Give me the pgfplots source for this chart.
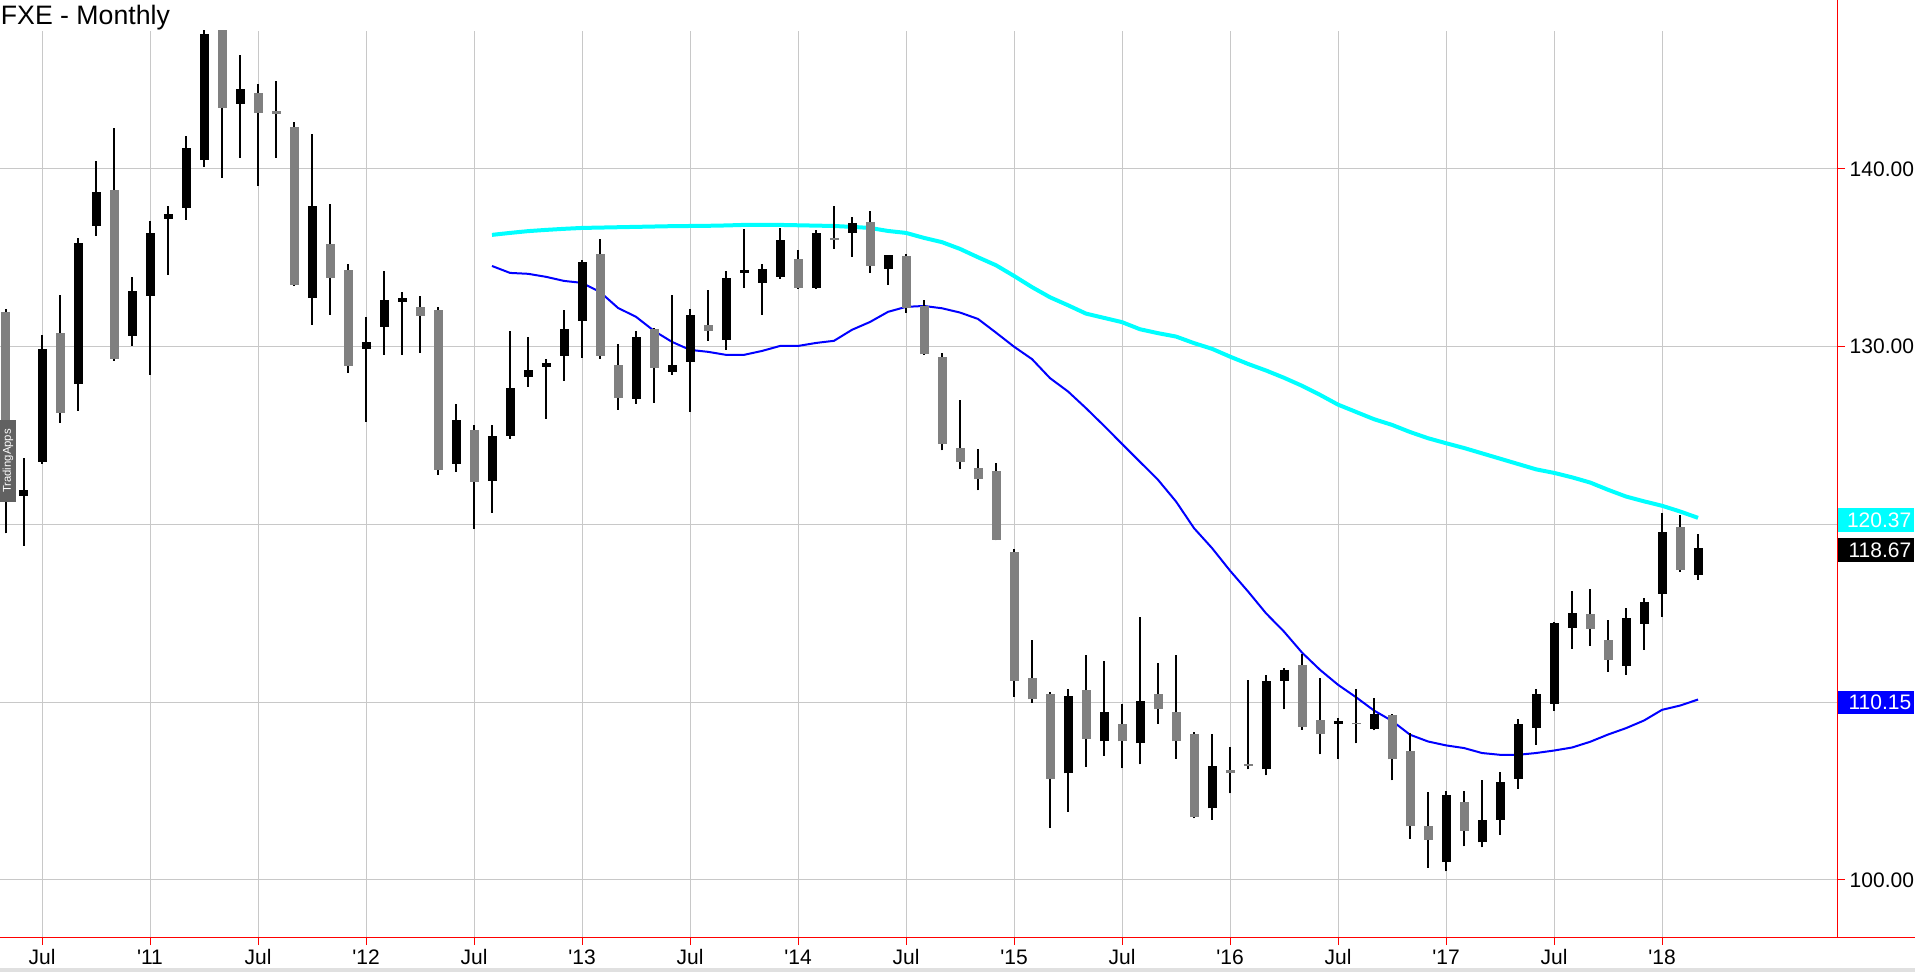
\documentclass[border=0pt]{standalone}
\usepackage{pgfplots}
\usepackage{pgfplotstable}
\pgfplotsset{compat=1.18}
\usepackage{fontspec}
\setmainfont{Liberation Sans}
\definecolor{gridgray}{HTML}{C8C8C8}
\definecolor{candlegray}{HTML}{808080}
\definecolor{macyan}{HTML}{00FFFF}
\definecolor{mablue}{HTML}{0000FF}
\definecolor{axred}{HTML}{FF0000}
\newcommand{\q}{\textquotesingle}

\pgfplotstableread{
i o h l c
4 131.96 132.10 119.50 122.30
5 121.60 123.75 118.80 121.94
6 123.52 130.66 123.40 129.88
7 130.78 132.91 125.71 126.28
8 127.91 136.12 126.39 135.84
9 136.79 140.45 136.23 138.71
10 138.82 142.31 129.20 129.31
11 130.61 133.93 130.05 133.14
12 132.86 137.08 128.41 136.40
13 137.19 137.92 134.04 137.47
14 137.81 141.86 137.13 141.18
15 140.50 147.90 140.10 147.59
16 148.30 149.00 139.49 143.43
17 143.66 146.41 140.62 144.50
18 144.27 144.78 139.04 143.15
19 143.25 144.95 140.62 143.10
20 142.36 142.64 133.40 133.48
21 132.74 141.97 131.23 137.92
22 135.78 138.03 131.79 133.87
23 134.32 134.66 128.53 128.92
24 129.88 131.68 125.77 130.27
25 131.11 134.26 129.54 132.63
26 132.52 133.08 129.54 132.74
27 132.24 132.86 129.65 131.73
28 132.07 132.24 122.79 123.07
29 123.41 126.78 122.96 125.88
30 125.32 125.60 119.75 122.40
31 122.45 125.60 120.65 124.98
32 124.98 130.89 124.81 127.68
33 128.30 130.55 127.74 128.70
34 128.86 129.31 125.94 129.09
35 129.48 132.07 128.08 131.00
36 131.45 134.88 129.37 134.77
37 135.22 136.06 129.31 129.48
38 128.98 130.16 126.45 127.12
39 127.06 130.89 126.78 130.55
40 131.00 131.06 126.84 128.81
41 128.58 132.91 128.41 128.98
42 129.14 132.13 126.33 131.79
43 131.23 133.19 130.33 130.89
44 130.38 134.26 129.82 133.87
45 134.15 136.63 133.30 134.30
46 133.59 134.66 131.79 134.38
47 133.93 136.68 133.81 136.01
48 134.94 135.44 133.25 133.31
49 133.31 136.57 133.25 136.40
50 136.10 137.92 135.50 136.00
51 136.40 137.30 135.05 136.96
52 137.02 137.64 134.15 134.54
53 134.38 135.16 133.48 135.16
54 135.10 135.22 131.90 132.18
55 132.29 132.63 129.54 129.57
56 129.43 129.63 124.16 124.52
57 124.31 127.00 123.11 123.54
58 123.18 124.25 121.91 122.53
59 123.01 123.45 119.10 119.15
60 118.46 118.60 110.32 111.22
61 111.37 113.51 109.98 110.16
62 110.47 110.55 102.95 105.69
63 105.99 110.75 103.85 110.36
64 110.70 112.67 106.38 107.94
65 107.79 112.33 107.00 109.46
66 108.79 109.89 106.27 107.79
67 107.68 114.80 106.50 110.08
68 110.47 112.22 108.80 109.59
69 109.46 112.67 106.83 107.79
70 108.22 108.30 103.46 103.52
71 104.03 108.22 103.40 106.42
72 106.20 107.49 104.87 106.00
73 106.50 111.26 106.22 106.40
74 106.22 111.54 105.88 111.20
75 111.22 111.93 109.59 111.82
76 112.10 112.72 108.46 108.63
77 109.00 111.37 107.06 108.19
78 108.80 109.12 106.83 108.95
79 108.85 110.75 107.68 108.75
80 108.52 110.25 108.41 109.34
81 109.29 109.35 105.60 106.78
82 107.27 108.26 102.32 103.01
83 103.05 104.92 100.70 102.26
84 101.00 104.98 100.48 104.79
85 104.36 105.02 101.89 102.77
86 102.11 105.64 101.83 103.39
87 103.39 106.08 102.54 105.52
88 105.69 109.07 105.13 108.78
89 108.56 110.75 107.60 110.47
90 109.91 114.52 109.52 114.47
91 114.18 116.27 113.00 115.03
92 114.97 116.38 113.17 114.13
93 113.51 114.63 111.71 112.38
94 112.05 115.31 111.54 114.75
95 114.41 115.87 112.95 115.65
96 116.10 120.65 114.80 119.58
97 119.86 120.54 117.33 117.45
98 117.17 119.47 116.88 118.67
}\candles

\pgfplotstableread{
i v
31 136.29
32 136.40
33 136.50
34 136.57
35 136.63
36 136.68
37 136.70
38 136.72
39 136.74
40 136.76
41 136.78
42 136.79
43 136.80
44 136.82
45 136.85
46 136.85
47 136.85
48 136.83
49 136.81
50 136.79
51 136.74
52 136.68
53 136.51
54 136.40
55 136.12
56 135.88
57 135.50
58 135.03
59 134.58
60 133.98
61 133.35
62 132.78
63 132.33
64 131.86
65 131.62
66 131.38
67 130.98
68 130.76
69 130.57
70 130.20
71 129.88
72 129.44
73 129.03
74 128.66
75 128.25
76 127.80
77 127.29
78 126.74
79 126.33
80 125.92
81 125.60
82 125.20
83 124.85
84 124.57
85 124.30
86 124.00
87 123.70
88 123.40
89 123.10
90 122.90
91 122.65
92 122.36
93 121.95
94 121.57
95 121.30
96 121.05
97 120.73
98 120.37
}\cyanma

\pgfplotstableread{
i v
31 134.54
32 134.15
33 134.10
34 133.93
35 133.70
36 133.59
37 133.08
38 132.18
39 131.68
40 130.89
41 130.27
42 129.82
43 129.71
44 129.54
45 129.54
46 129.76
47 130.04
48 130.04
49 130.21
50 130.33
51 130.95
52 131.39
53 131.96
54 132.24
55 132.29
56 132.16
57 131.92
58 131.56
59 130.79
60 130.00
61 129.30
62 128.23
63 127.48
64 126.54
65 125.55
66 124.53
67 123.52
68 122.51
69 121.29
70 119.79
71 118.67
72 117.40
73 116.23
74 115.00
75 113.97
76 112.79
77 111.82
78 110.98
79 110.28
80 109.53
81 108.95
82 108.17
83 107.79
84 107.57
85 107.42
86 107.14
87 107.04
88 107.04
89 107.14
90 107.28
91 107.45
92 107.77
93 108.18
94 108.54
95 108.97
96 109.57
97 109.81
98 110.15
}\bluema

\begin{document}
\begin{tikzpicture}[x=1pt,y=1pt]
\useasboundingbox (0,0) rectangle (1436.25,729);
\fill[white] (0,0) rectangle (1436.25,729);
\fill[black!12] (0,0) rectangle (1436.25,3);
\begin{axis}[
  at={(0pt,26.25pt)}, anchor=south west,
  scale only axis, width=1377.75pt, height=679.5pt,
  xmin=3.6667, xmax=105.722, ymin=96.79, ymax=147.76,
  axis x line*=bottom, axis y line*=right,
  axis line style={axred, line width=0.75pt},
  xtick={6,12,...,96},
  xticklabels={Jul,\q11,Jul,\q12,Jul,\q13,Jul,\q14,Jul,\q15,Jul,\q16,Jul,\q17,Jul,\q18},
  ytick={100,110,120,130,140},
  yticklabels={100.00,110.00,120.00,130.00,140.00},
  grid=major, major grid style={gridgray, line width=0.75pt},
  tick align=outside, major tick length=6pt,
  tick style={axred, line width=0.75pt},
  ticklabel style={font=\fontsize{15.75}{18}\selectfont, text=black},
  clip mode=individual,
  candle/.style={only marks, mark=*, mark size=0pt, mark options={draw=none, fill=none},
    error bars/.cd, y dir=plus, y explicit, error mark=none},
]
\addplot[macyan, line width=3pt, no marks] table[x=i, y=v] {\cyanma};
\addplot[mablue, line width=1.5pt, no marks] table[x=i, y=v] {\bluema};
% wicks
\addplot[candle, error bar style={black, line width=0.9pt}]
  table[x=i, y=l, y error plus expr=\thisrow{h}-\thisrow{l}] {\candles};
% up bodies (black)
\addplot[restrict expr to domain={\thisrow{c}-\thisrow{o}}{0.00001:1000},
  candle, error bar style={black, line width=6.75pt}]
  table[x=i, y=o, y error plus expr=\thisrow{c}-\thisrow{o}] {\candles};
% down bodies (gray)
\addplot[restrict expr to domain={\thisrow{o}-\thisrow{c}}{0:1000},
  candle, error bar style={candlegray, line width=6.75pt}]
  table[x=i, y=c, y error plus expr=\thisrow{o}-\thisrow{c}] {\candles};
% last-value tags
\tikzset{tag/.style={anchor=west, inner xsep=2pt, inner ysep=0pt, text width=53.5pt, align=right, minimum height=17.5pt, text=white, font=\fontsize{15.75}{18}\selectfont}}
\node[tag, fill=macyan] at (axis cs:105.722,120.25) {120.37};
\node[tag, fill=black] at (axis cs:105.722,118.57) {118.67};
\node[tag, fill=mablue] at (axis cs:105.722,110.0) {110.15};
\end{axis}
\draw[axred, line width=0.75pt] (0,26.25) -- (1436.25,26.25);
\draw[axred, line width=0.75pt] (1377.75,26.25) -- (1377.75,729);
\node[anchor=base west, inner sep=0pt, font=\fontsize{20}{24}\selectfont] at (0.5,710.25) {FXE - Monthly};
\node[rotate=90, fill=black!62, text=white, inner sep=1pt, minimum width=61.5pt, minimum height=12pt, font=\fontsize{8.5}{10}\selectfont] at (6,383.25) {TradingApps};
\end{tikzpicture}
\end{document}
